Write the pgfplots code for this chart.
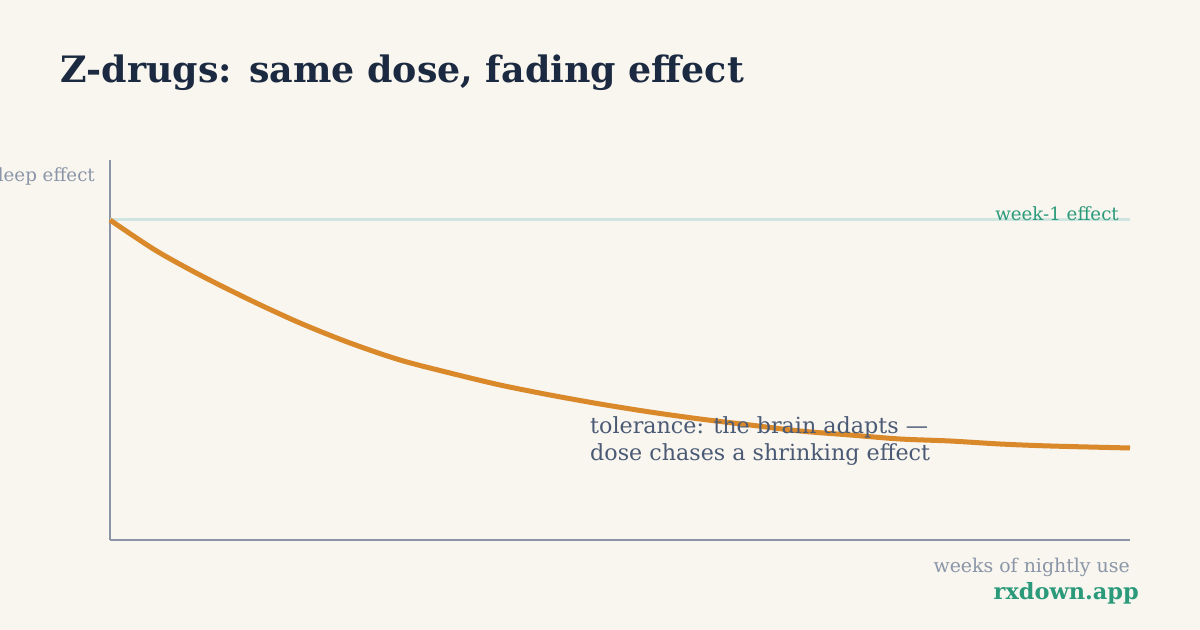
\documentclass[border=0pt]{standalone}
\usepackage{pgfplots}
\pgfplotsset{compat=1.18}
\usepackage{fontspec}
\setmainfont{DejaVu Serif}
\definecolor{bg}{HTML}{F9F5EF}
\definecolor{titlec}{HTML}{1B2A40}
\definecolor{axisc}{HTML}{8A96A8}
\definecolor{refc}{HTML}{CFE5DF}
\definecolor{curvec}{HTML}{D9882A}
\definecolor{greenc}{HTML}{2A9A7A}
\definecolor{annc}{HTML}{4A5A75}
\begin{document}
\begin{tikzpicture}[x=1bp,y=1bp]
\fill[bg] (0,0) rectangle (1200,630);
\useasboundingbox (0,0) rectangle (1200,630);
\begin{axis}[
  at={(110bp,90bp)}, anchor=origin,
  scale only axis, width=1020bp, height=380bp,
  xmin=0, xmax=1020, ymin=0, ymax=380,
  axis lines=left, axis line style={-, draw=axisc, line width=2bp},
  xtick=\empty, ytick=\empty,
  clip=false,
]
\addplot[draw=refc, line width=3bp] coordinates {(0,320) (1020,320)};
\addplot[draw=curvec, line width=5bp, smooth] coordinates {
(0,320) (45,290) (90,265) (140,240) (190,217) (240,197) (290,180) (340,167)
(390,155) (440,145) (490,136) (540,128) (590,121) (640,115) (690,109)
(740,105) (790,101) (840,99) (890,96) (940,94) (1020,92)};
\end{axis}
\node[anchor=base west, inner sep=0, font=\fontsize{36.5}{40}\selectfont\bfseries, text=titlec] at (60,547) {Z-drugs: same dose, fading effect};
\node[anchor=base east, inner sep=0, font=\fontsize{18.3}{22}\selectfont, text=axisc] at (95,448) {sleep effect};
\node[anchor=base east, inner sep=0, font=\fontsize{18.3}{22}\selectfont, text=greenc] at (1119,409) {week-1 effect};
\node[anchor=base west, inner sep=0, font=\fontsize{22.3}{27}\selectfont, text=annc] at (590,196) {tolerance: the brain adapts ---};
\node[anchor=base west, inner sep=0, font=\fontsize{22.3}{27}\selectfont, text=annc] at (590,169) {dose chases a shrinking effect};
\node[anchor=base east, inner sep=0, font=\fontsize{19}{22}\selectfont, text=axisc] at (1130,57) {weeks of nightly use};
\node[anchor=base east, inner sep=0, font=\fontsize{22.5}{24}\selectfont\bfseries, text=greenc] at (1139,30) {rxdown.app};
\end{tikzpicture}
\end{document}
